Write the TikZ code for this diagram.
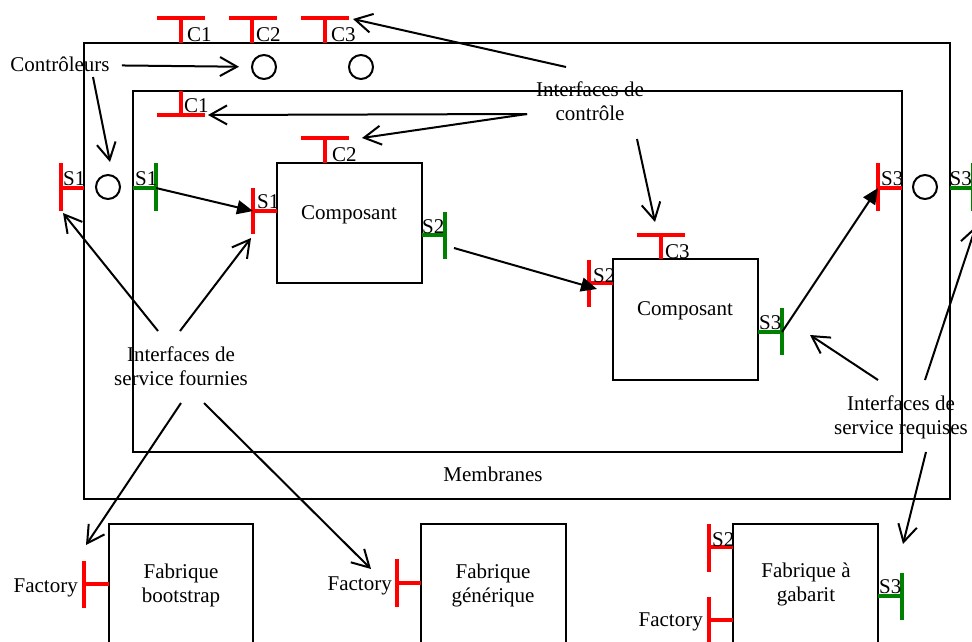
\documentclass[tikz,border=0pt]{standalone}
\usepackage{fontspec}
\setmainfont{Liberation Serif}
\usepackage{tikz}
\usetikzlibrary{arrows.meta}

\begin{document}
\begin{tikzpicture}
		[x=1pt,y=-1pt,
		 every node/.style={font=\fontsize{21}{23.5}\selectfont,inner sep=0pt},
		 box/.style={draw,line width=2pt},
		 req/.style={red,line width=3.5pt},
		 prov/.style={green!50!black,line width=3.5pt},
		 ctl/.style={circle,draw,line width=2pt,minimum size=24pt},
		 note/.style={align=center,anchor=north},
		 hint/.style={-{Straight Barb[length=17pt,width=19pt]},line width=2pt},
		 link/.style={-{Triangle[length=16pt,width=14pt]},line width=2pt}]
		\useasboundingbox (0,0) rectangle (972,642);
		\clip (0,0) rectangle (972,642);
		\draw[box] (84,43) rectangle (950,499);
		\draw[box] (133,91) rectangle (902,452);
		\draw[box] (277,163) rectangle (422,283);
		\draw[box] (613,259) rectangle (758,380);
		\draw[box] (109,524) rectangle (253,660);
		\draw[box] (421,524) rectangle (566,660);
		\draw[box] (733,524) rectangle (878,660);
		\node[anchor=base] (mbr) at (493,481) {Membranes};
		\node[anchor=base] (cmpA) at (349,219) {Composant};
		\node[anchor=base] (cmpB) at (685,315) {Composant};
		\node[note] (fabA) at (181,564) {Fabrique\\bootstrap};
		\node[note] (fabB) at (493,564) {Fabrique\\générique};
		\node[note] (fabC) at (806,563) {Fabrique à\\gabarit};
		\node[ctl] (ctlA) at (264,67) {};
		\node[ctl] (ctlB) at (361,67) {};
		\node[ctl] (ctlC) at (108,187) {};
		\node[ctl] (ctlD) at (925,187) {};
		\draw[req] (157,18) -- (205,18) (181,18) -- (181,43);
		\draw[req] (229,18) -- (277,18) (252,18) -- (252,43);
		\draw[req] (301,18) -- (349,18) (325,18) -- (325,43);
		\draw[req] (157,115) -- (205,115) (181,91) -- (181,115);
		\draw[req] (301,138) -- (349,138) (325,138) -- (325,163);
		\draw[req] (637,235) -- (685,235) (661,235) -- (661,259);
		\draw[req] (61,163) -- (61,211) (61,188) -- (84,188);
		\draw[prov] (133,188) -- (156,188) (156,163) -- (156,211);
		\draw[req] (253,188) -- (253,234) (253,211) -- (277,211);
		\draw[prov] (422,235) -- (445,235) (445,212) -- (445,259);
		\draw[req] (589,260) -- (589,307) (589,283) -- (613,283);
		\draw[prov] (758,332) -- (782,332) (782,308) -- (782,355);
		\draw[req] (878,163) -- (878,211) (878,188) -- (902,188);
		\draw[prov] (950,188) -- (973,188) (973,163) -- (973,211);
		\draw[req] (84,561) -- (84,608) (84,584) -- (109,584);
		\draw[req] (397,559) -- (397,607) (397,583) -- (421,583);
		\draw[req] (709,524) -- (709,572) (709,547) -- (733,547);
		\draw[req] (709,597) -- (709,645) (709,620) -- (733,620);
		\draw[prov] (878,596) -- (902,596) (902,573) -- (902,620);
		\node[anchor=base west] (lc1) at (187,42) {C1};
		\node[anchor=base west] (lc2) at (256,42) {C2};
		\node[anchor=base west] (lc3) at (331,42) {C3};
		\node[anchor=base west] (lc1i) at (184,112) {C1};
		\node[anchor=base west] (lc2a) at (332,161) {C2};
		\node[anchor=base west] (lc3b) at (665,258) {C3};
		\node[anchor=base west] (ls1o) at (63,185) {S1};
		\node[anchor=base west] (ls1i) at (135,185) {S1};
		\node[anchor=base west] (ls1a) at (257,208) {S1};
		\node[anchor=base west] (ls2a) at (422,233) {S2};
		\node[anchor=base west] (ls2b) at (593,282) {S2};
		\node[anchor=base west] (ls3b) at (759,329) {S3};
		\node[anchor=base west] (ls3i) at (881,185) {S3};
		\node[anchor=base east] (ls3o) at (972,185) {S3};
		\node[anchor=base west] (ls2c) at (712,546) {S2};
		\node[anchor=base west] (ls3c) at (879,593) {S3};
		\node[anchor=base east] (lfA) at (78,592) {Factory};
		\node[anchor=base east] (lfB) at (392,590) {Factory};
		\node[anchor=base east] (lfC) at (703,626) {Factory};
		\node[anchor=base] (ctrl) at (60,72) {Contrôleurs};
		\node[note] (ictl) at (590,82) {Interfaces de\\contrôle};
		\node[note] (fourn) at (181,347) {Interfaces de\\service fournies};
		\node[note] (requ) at (901,396) {Interfaces de\\service requises};
		\coordinate (ctrlS) at (93,77);
		\coordinate (ictlN) at (566,67);
		\coordinate (ictlW) at (527,114);
		\coordinate (ictlS) at (637,139);
		\coordinate (fournNW) at (158,331);
		\coordinate (fournNE) at (180,331);
		\coordinate (fournSW) at (181,403);
		\coordinate (fournSE) at (204,403);
		\coordinate (requNW) at (878,380);
		\coordinate (requNE) at (925,380);
		\coordinate (requS) at (926,452);
		\coordinate (pS1) at (156,188);
		\coordinate (rS1) at (253,211);
		\coordinate (pS2) at (454,248);
		\coordinate (rS2) at (597,289);
		\coordinate (pS3) at (782,332);
		\coordinate (rS3) at (878,188);
		\draw[hint,shorten <=12pt,shorten >=12pt] (ctrl) -- (ctlA);
		\draw[hint] (ctrlS) -- (110,162);
		\draw[hint] (ictlN) -- (353,19);
		\draw[hint] (ictlW) -- (208,115);
		\draw[hint] (ictlW) -- (362,138);
		\draw[hint] (ictlS) -- (655,222);
		\draw[hint] (fournNW) -- (63,213);
		\draw[hint] (fournNE) -- (251,238);
		\draw[hint] (fournSW) -- (86,545);
		\draw[hint] (fournSE) -- (371,569);
		\draw[hint] (requNW) -- (810,335);
		\draw[hint] (requNE) -- (976,226);
		\draw[hint] (requS) -- (903,544);
		\draw[link] (pS1) -- (rS1);
		\draw[link] (pS2) -- (rS2);
		\draw[link] (pS3) -- (rS3);
\end{tikzpicture}
\end{document}
